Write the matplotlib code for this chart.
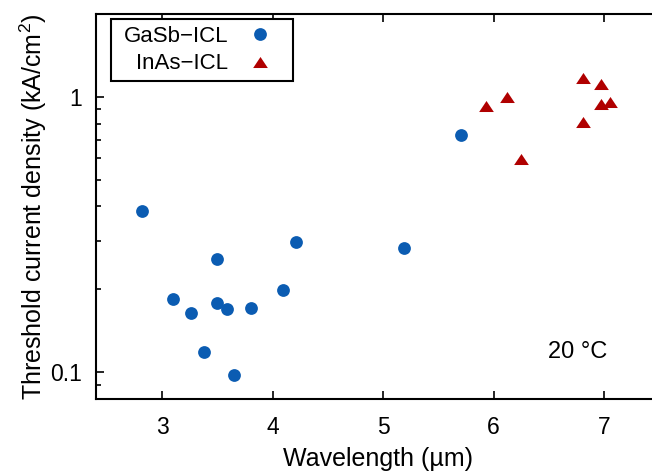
import numpy as np
import matplotlib
matplotlib.use("Agg")
from matplotlib import pyplot as plt
from matplotlib import ticker
from matplotlib.path import Path

plt.rcParams['font.family'] = ['Liberation Sans', 'DejaVu Sans']
plt.rcParams['mathtext.default'] = 'regular'

# GaSb-based interband cascade lasers
gasb_wl = [2.82, 3.10, 3.26, 3.38, 3.495, 3.50, 3.59, 3.65, 3.80, 4.09, 4.21, 5.19, 5.70]
gasb_jth = [0.385, 0.185, 0.164, 0.118, 0.258, 0.178, 0.170, 0.098, 0.171, 0.199, 0.296, 0.282, 0.728]

# InAs-based interband cascade lasers
inas_wl = [5.93, 6.12, 6.25, 6.81, 6.97, 6.975, 7.05, 6.81]
inas_jth = [0.927, 1.0, 0.594, 1.17, 1.11, 0.943, 0.955, 0.809]

blue = '#0b5cb2'
red = '#b00000'

# wide triangle, like the gnuplot one
tri = [(-1, -0.75), (1, -0.75), (0, 0.75), (-1, -0.75)]


# legend frame with a bit more room on the left side
def frame_left_pad(x0, y0, width, height, mutation_size):
    ext = 0.28 * mutation_size
    x0 = x0 - ext
    width = width + ext
    return Path([(x0, y0), (x0 + width, y0), (x0 + width, y0 + height),
                 (x0, y0 + height), (x0, y0)], closed=True)


fig = plt.figure(figsize=(6.52, 4.72), dpi=100)
ax = fig.add_axes([0.147, 0.1547, 0.8644, 0.8157])

ax.plot(gasb_wl, gasb_jth, 'o', color=blue, ms=9.2, mec='none', label='GaSb\u2212ICL')
ax.plot(inas_wl, inas_jth, ls='none', marker=tri, color=red, ms=10.6, mec='none', label='InAs\u2212ICL')

ax.set_yscale('log')
ax.set_xlim(2.4, 7.5)
ax.set_ylim(0.08, 2.0)

ax.set_xticks([3, 4, 5, 6, 7])
ax.yaxis.set_major_locator(ticker.FixedLocator([0.1, 1]))
ax.yaxis.set_major_formatter(ticker.FormatStrFormatter('%g'))
ax.yaxis.set_minor_locator(ticker.LogLocator(subs=np.arange(2, 10)))
ax.yaxis.set_minor_formatter(ticker.NullFormatter())

ax.tick_params(which='both', direction='in', labelsize=16.5, top=True, right=False, width=1.2)
ax.tick_params(which='major', length=6)
ax.tick_params(which='minor', length=3.5)
ax.tick_params(axis='x', which='major', pad=12)
ax.tick_params(axis='y', which='major', pad=10)
ax.tick_params(axis='x', which='minor', top=False, bottom=False)

for s in ax.spines.values():
    s.set_linewidth(1.5)

ax.set_xlabel('Wavelength (\u00b5m)', fontsize=18, labelpad=6)
ax.set_ylabel('Threshold current density (kA/cm$^2$)', fontsize=18, labelpad=1)

ax.text(0.855, 0.122, '20 \u00b0C', transform=ax.transAxes, fontsize=17, ha='center', va='center')

leg = ax.legend(loc='upper left', bbox_to_anchor=(0.038, 0.987), markerfirst=False,
                fontsize=16, frameon=True, fancybox=False, framealpha=1, edgecolor='black',
                handlelength=2.37, handletextpad=0.25, borderpad=0.3, labelspacing=0.3,
                borderaxespad=0)
leg.get_frame().set_linewidth(1.5)
leg.get_frame().set_boxstyle(frame_left_pad)

fig.savefig('out.png', dpi=100)
